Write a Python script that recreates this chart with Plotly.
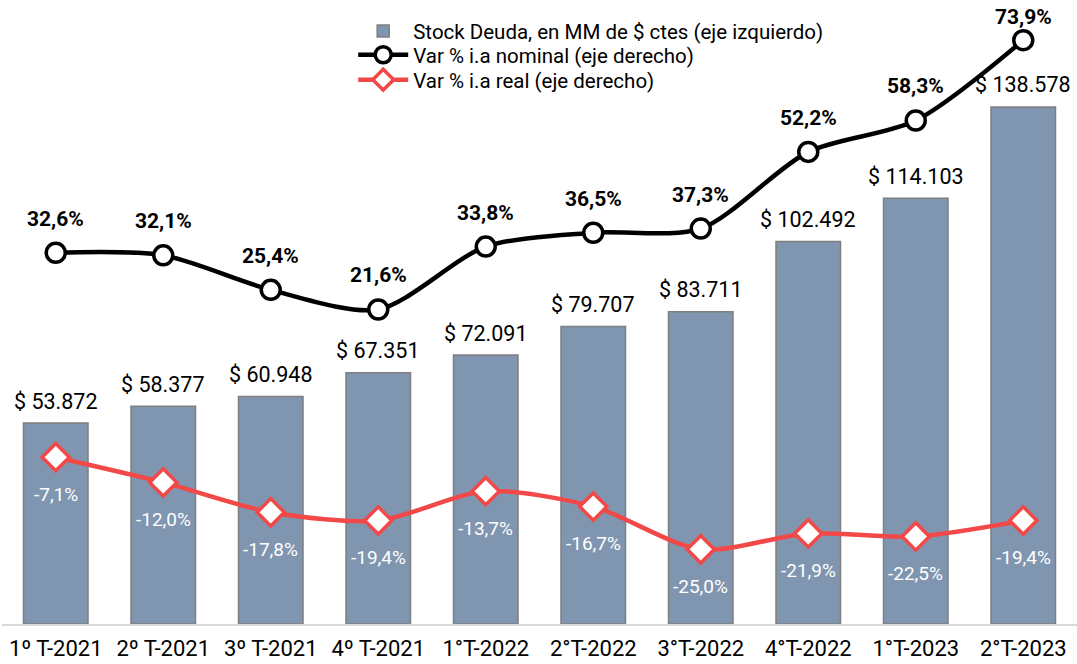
import plotly.graph_objects as go

categories = ["1º T-2021", "2º T-2021", "3º T-2021", "4º T-2021", "1°T-2022",
              "2°T-2022", "3°T-2022", "4°T-2022", "1°T-2023", "2°T-2023"]
stock = [53872, 58377, 60948, 67351, 72091, 79707, 83711, 102492, 114103, 138578]
nominal = [32.6, 32.1, 25.4, 21.6, 33.8, 36.5, 37.3, 52.2, 58.3, 73.9]
real = [-7.1, -12.0, -17.8, -19.4, -13.7, -16.7, -25.0, -21.9, -22.5, -19.4]

FONT = "Roboto"
BAR = "#8096B0"
RED = "#F24848"

def fmt_money(v):
    return "$ " + f"{v:,}".replace(",", ".")

def fmt_pct(v):
    return f"{v:.1f}".replace(".", ",") + "%"

fig = go.Figure()
fig.add_trace(go.Bar(
    x=categories, y=stock, name="Stock Deuda, en MM de $ ctes (eje izquierdo)",
    marker=dict(color=BAR, line=dict(color="#7F7F7F", width=1.5)),
    width=0.6, yaxis="y", legend="legend"))
fig.add_trace(go.Scatter(
    x=categories, y=nominal, name="Var % i.a nominal (eje derecho)",
    mode="lines+markers", yaxis="y2", legend="legend2",
    line=dict(color="black", width=4.5, shape="spline", smoothing=0.8),
    marker=dict(symbol="circle", size=19, color="white", line=dict(color="black", width=3.5))))
fig.add_trace(go.Scatter(
    x=categories, y=real, name="Var % i.a real (eje derecho)",
    mode="lines+markers", yaxis="y2", legend="legend3",
    line=dict(color=RED, width=4.5, shape="spline", smoothing=0.8),
    marker=dict(symbol="diamond", size=21, color="white", line=dict(color=RED, width=3.5))))

top_nominal = max(nominal)
annotations = []
for c, v in zip(categories, stock):
    annotations.append(dict(x=c, y=v, xref="x", yref="y", text=fmt_money(v),
                            showarrow=False, yshift=22,
                            font=dict(family=FONT, size=21.5, color="black")))
for c, v in zip(categories, nominal):
    annotations.append(dict(x=c, y=v, xref="x", yref="y2", text="<b>" + fmt_pct(v) + "</b>",
                            showarrow=False, yshift=(23 if v == top_nominal else 34),
                            font=dict(family=FONT, size=21, color="black")))
for c, v in zip(categories, real):
    annotations.append(dict(x=c, y=v, xref="x", yref="y2", text=fmt_pct(v),
                            showarrow=False, yshift=-37,
                            font=dict(family=FONT, size=19, color="white")))

def leg(y):
    return dict(x=0.3267, y=y, xanchor="left", yanchor="middle",
                font=dict(family=FONT, size=20.5, color="black"),
                bgcolor="rgba(0,0,0,0)", itemwidth=50)

fig.update_layout(
    width=1077, height=664,
    margin=dict(l=2, r=0, t=0, b=40, autoexpand=False),
    paper_bgcolor="white", plot_bgcolor="white",
    font=dict(family=FONT, size=20, color="black"),
    showlegend=True,
    legend=leg(0.950), legend2=leg(0.912), legend3=leg(0.872),
    xaxis=dict(range=[-0.5, 9.5], showgrid=False, showline=True, linecolor="#D9D9D9",
               linewidth=2, ticks="", automargin=False, ticklabelstandoff=4,
               tickfont=dict(family=FONT, size=22, color="black")),
    yaxis=dict(range=[0, 167250], visible=False, showgrid=False, automargin=False),
    yaxis2=dict(range=[-39.5, 81.7], overlaying="y", side="right",
                visible=False, showgrid=False, automargin=False),
    annotations=annotations,
    bargap=0.4,
)

fig.write_html("out.html", config={"displayModeBar": False},
               post_script="document.body.style.margin='0';")
